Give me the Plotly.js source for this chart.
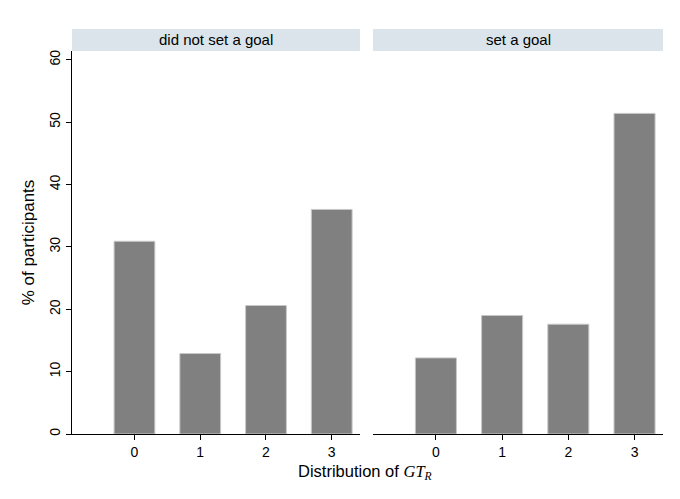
<!DOCTYPE html>
<html><head><meta charset="utf-8">
<script src="https://cdn.plot.ly/plotly-3.0.1.min.js"></script>
<style>body{margin:0;padding:0;background:#fff}</style>
</head><body>
<div id="chart" style="width:680px;height:499px"></div>
<script>
const categories = [0, 1, 2, 3];
const panelNames = ["did not set a goal", "set a goal"];
const noGoalValues = [30.9, 12.9, 20.6, 36.0];
const goalValues = [12.2, 19.0, 17.6, 51.4];
const yTicks = [0, 10, 20, 30, 40, 50, 60];

const barStyle = {color: '#808080', line: {color: '#c8c8c8', width: 1}};
const traces = [
  {type: 'bar', x: categories, y: noGoalValues, xaxis: 'x', yaxis: 'y', width: 0.62, marker: barStyle},
  {type: 'bar', x: categories, y: goalValues, xaxis: 'x2', yaxis: 'y2', width: 0.62, marker: barStyle}
];
const FAM = 'Liberation Sans';
const xCommon = {
  range: [-0.95, 3.43], tickvals: categories, ticktext: categories.map(String),
  ticks: 'outside', ticklen: 5, tickcolor: '#000', tickwidth: 1,
  showline: true, linecolor: '#000', linewidth: 1, showgrid: false, zeroline: false,
  tickfont: {family: FAM, size: 14, color: '#000'}, fixedrange: true
};
const d1 = [0, 288/591], d2 = [301/591, 1];
const stripH = 22/383;
const layout = {
  width: 680, height: 499,
  margin: {l: 72, r: 17, t: 51, b: 65},
  paper_bgcolor: '#fff', plot_bgcolor: '#fff',
  font: {family: FAM, size: 14, color: '#000'}, showlegend: false, bargap: 0,
  xaxis: Object.assign({domain: d1, anchor: 'y'}, xCommon),
  xaxis2: Object.assign({domain: d2, anchor: 'y2'}, xCommon),
  yaxis: {range: [0, 61.4], tickvals: yTicks, ticktext: yTicks.map(String), tickangle: -90,
    ticks: 'outside', ticklen: 5, tickcolor: '#000', showline: true, linecolor: '#000', linewidth: 1,
    showgrid: false, zeroline: false, tickfont: {family: FAM, size: 14, color: '#000'},
    title: {text: '% of participants', font: {family: FAM, size: 17, color: '#000'}, standoff: 8}, anchor: 'x'},
  yaxis2: {range: [0, 61.4], anchor: 'x2', showticklabels: false, showline: false, ticks: '',
    showgrid: false, zeroline: false},
  shapes: [
    {type: 'rect', xref: 'paper', yref: 'paper', x0: d1[0], x1: d1[1], y0: 1, y1: 1 + stripH, fillcolor: '#dae4ea', line: {width: 0}},
    {type: 'rect', xref: 'paper', yref: 'paper', x0: d2[0], x1: d2[1], y0: 1, y1: 1 + stripH, fillcolor: '#dae4ea', line: {width: 0}}
  ],
  annotations: [
    {xref: 'paper', yref: 'paper', x: (d1[0]+d1[1])/2, y: 1 + stripH/2, xanchor: 'center', yanchor: 'middle',
     text: panelNames[0], showarrow: false, font: {family: FAM, size: 15, color: '#000'}},
    {xref: 'paper', yref: 'paper', x: (d2[0]+d2[1])/2, y: 1 + stripH/2, xanchor: 'center', yanchor: 'middle',
     text: panelNames[1], showarrow: false, font: {family: FAM, size: 15, color: '#000'}},
    {xref: 'paper', yref: 'paper', x: 0.495, y: -0.068, xanchor: 'center', yanchor: 'top', showarrow: false,
     font: {family: FAM, size: 16.5, color: '#000'},
     text: 'Distribution of <span style="font-family:Liberation Serif;font-style:italic">GT</span><sub><span style="font-family:Liberation Serif;font-style:italic">R</span></sub>'}
  ]
};
Plotly.newPlot('chart', traces, layout, {displayModeBar: false, staticPlot: true});
</script>
</body></html>
